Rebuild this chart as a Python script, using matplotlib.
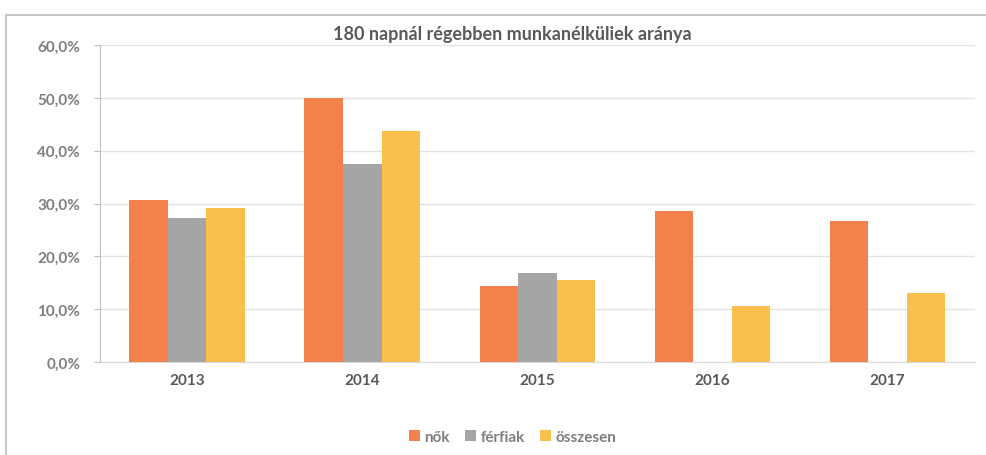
import numpy as np
import matplotlib.pyplot as plt
from matplotlib.patches import Rectangle

plt.rcParams['font.family'] = ['Lato', 'DejaVu Sans']

# adatok
years = ['2013', '2014', '2015', '2016', '2017']
nok = [30.7, 50.0, 14.4, 28.6, 26.7]
ferfiak = [27.3, 37.5, 16.9, 0.0, 0.0]
osszesen = [29.2, 43.7, 15.5, 10.6, 13.1]
series_names = ['nők', 'férfiak', 'összesen']
colors = ['#F2824A', '#A5A5A5', '#FAC04E']

fig = plt.figure(figsize=(9.86, 4.56), dpi=100)
ax = fig.add_axes([0.101, 0.204, 0.888, 0.695])

# keret a diagram körül
fig.patches.append(Rectangle((0.006, -0.01), 1.2, 0.975, transform=fig.transFigure,
                             fill=False, edgecolor='#C8C8C8', lw=1.5))

x = np.arange(len(years))
w = 0.22
for i, (vals, name) in enumerate(zip([nok, ferfiak, osszesen], series_names)):
    ax.bar(x + (i - 1) * w, vals, w, color=colors[i], label=name, zorder=3)

ax.set_xlim(-0.5, 4.5)
ax.set_ylim(0, 60)
ax.set_yticks(np.arange(0, 61, 10))
ax.set_yticklabels([f'{v:.1f}%'.replace('.', ',') for v in np.arange(0, 61, 10)])
ax.set_xticks(x)
ax.set_xticklabels(years)
ax.grid(axis='y', color='#E3E3E3', lw=1, zorder=0)
for s in ['top', 'right']:
    ax.spines[s].set_visible(False)
ax.spines['left'].set_color('#BFBFBF')
ax.spines['bottom'].set_color('#D9D9D9')
ax.tick_params(axis='y', length=4, color='#BFBFBF', labelsize=11, labelcolor='#7F7F7F', pad=10)
ax.tick_params(axis='x', length=0, labelsize=11, labelcolor='#595959', pad=8)
for lab in ax.get_yticklabels() + ax.get_xticklabels():
    lab.set_fontweight('bold')

fig.text(0.52, 0.905, '180 napnál régebben munkanélküliek aránya', ha='center', va='bottom',
         fontsize=13, fontweight='bold', color='#595959')

leg = fig.legend(loc='center', bbox_to_anchor=(0.52, 0.04), ncol=3, frameon=False,
                 handlelength=0.7, handleheight=0.7, columnspacing=1.0,
                 handletextpad=0.3, fontsize=11)
for t in leg.get_texts():
    t.set_fontweight('bold')
    t.set_color('#7F7F7F')

fig.savefig('out.png', dpi=100)
